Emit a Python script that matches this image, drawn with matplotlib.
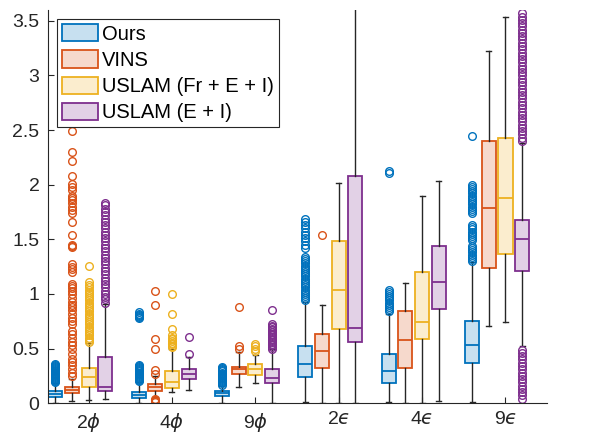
import matplotlib
matplotlib.use("Agg")
import matplotlib.pyplot as plt
from matplotlib.patches import Patch
from matplotlib.colors import to_rgba

plt.rcParams['font.family'] = ['Liberation Sans', 'DejaVu Sans']
plt.rcParams['mathtext.fontset'] = 'dejavusans'

groups = ['2$\\phi$', '4$\\phi$', '9$\\phi$', '2$\u03f5$', '4$\u03f5$', '9$\u03f5$']
methods = ['Ours', 'VINS', 'USLAM (Fr + E + I)', 'USLAM (E + I)']
colors = ['#0072BD', '#D95319', '#EDB120', '#7E2F8E']

# box statistics per method, one value per group
ours_q1 = [0.052, 0.046, 0.067, 0.235, 0.186, 0.37]
ours_med = [0.082, 0.073, 0.09, 0.355, 0.293, 0.53]
ours_q3 = [0.11, 0.098, 0.113, 0.52, 0.446, 0.75]
ours_lo = [0.0, 0.0, 0.0, 0.01, 0.01, 0.01]
ours_hi = [0.18, 0.19, 0.16, 0.93, 0.82, 1.29]

vins_q1 = [0.089, 0.113, 0.265, 0.32, 0.318, 1.24]
vins_med = [0.12, 0.15, 0.31, 0.475, 0.574, 1.79]
vins_q3 = [0.15, 0.174, 0.33, 0.63, 0.845, 2.4]
vins_lo = [0.018, 0.06, 0.15, 0.0, 0.0, 0.71]
vins_hi = [0.22, 0.25, 0.47, 0.9, 1.1, 3.22]

fr_q1 = [0.15, 0.14, 0.26, 0.675, 0.59, 1.37]
fr_med = [0.235, 0.195, 0.31, 1.04, 0.74, 1.88]
fr_q3 = [0.32, 0.29, 0.355, 1.48, 1.2, 2.43]
fr_lo = [0.03, 0.10, 0.18, 0.0, 0.0, 0.745]
fr_hi = [0.55, 0.5, 0.44, 2.02, 1.895, 3.54]

ei_q1 = [0.11, 0.22, 0.186, 0.56, 0.858, 1.21]
ei_med = [0.15, 0.265, 0.226, 0.69, 1.108, 1.5]
ei_q3 = [0.42, 0.31, 0.31, 2.08, 1.435, 1.68]
ei_lo = [0.035, 0.12, 0.0, 0.0, 0.02, 0.52]
ei_hi = [0.91, 0.42, 0.5, 3.8, 2.03, 2.38]

# outliers
ours_fl = [
    [0.19, 0.2, 0.21, 0.22, 0.23, 0.24, 0.25, 0.26, 0.27, 0.28, 0.29, 0.3, 0.31, 0.32, 0.33, 0.34, 0.35, 0.36],
    [0.2, 0.21, 0.22, 0.23, 0.24, 0.25, 0.26, 0.27, 0.28, 0.29, 0.3, 0.31, 0.32, 0.33, 0.34, 0.35,
     0.78, 0.79, 0.8, 0.81, 0.82, 0.83],
    [0.17, 0.18, 0.19, 0.2, 0.21, 0.22, 0.23, 0.24, 0.25, 0.26, 0.27, 0.28, 0.29, 0.3, 0.31, 0.32, 0.33],
    [0.94, 0.96, 0.98, 1.0, 1.02, 1.04, 1.06, 1.08, 1.1, 1.12, 1.14, 1.16, 1.18, 1.2, 1.22, 1.24, 1.26,
     1.28, 1.3, 1.32, 1.34, 1.42, 1.45, 1.48, 1.51, 1.54, 1.57, 1.6, 1.63, 1.66, 1.69],
    [0.84, 0.86, 0.88, 0.9, 0.92, 0.94, 0.96, 0.98, 1.0, 1.02, 1.04, 2.11, 2.13],
    [1.3, 1.32, 1.34, 1.36, 1.38, 1.4, 1.42, 1.44, 1.49, 1.51, 1.53, 1.55, 1.57, 1.59, 1.61, 1.63,
     1.74, 1.76, 1.78, 1.8, 1.82, 1.84, 1.86, 1.88, 1.9, 1.92, 1.94, 1.96, 1.98, 2.0, 2.45],
]
vins_fl = [
    [0.25, 0.28, 0.31, 0.35, 0.38, 0.4, 0.45, 0.5, 0.53, 0.56, 0.6, 0.63, 0.66, 0.72, 0.75, 0.78,
     0.82, 0.85, 0.88, 0.9, 0.93, 0.96, 1.0, 1.03, 1.05, 1.07, 1.09, 1.2, 1.23, 1.25, 1.27, 1.43,
     1.44, 1.45, 1.54, 1.66, 1.74, 1.77, 1.8, 1.83, 1.86, 1.88, 1.9, 1.95, 1.98, 2.01, 2.08, 2.22,
     2.3, 2.49],
    [0.01, 0.02, 0.03, 0.04, 0.27, 0.3, 0.5, 0.59, 0.9, 1.03],
    [0.5, 0.52, 0.88],
    [1.54],
    [],
    [],
]
fr_fl = [
    [0.56, 0.58, 0.6, 0.62, 0.64, 0.66, 0.68, 0.7, 0.72, 0.74, 0.76, 0.78, 0.8, 0.82, 0.84, 0.86,
     0.88, 0.9, 0.92, 0.94, 0.96, 0.98, 1.0, 1.02, 1.04, 1.06, 1.08, 1.11, 1.26],
    [0.51, 0.525, 0.54, 0.555, 0.57, 0.585, 0.6, 0.62, 0.68, 0.82, 1.0],
    [0.48, 0.5, 0.52, 0.54],
    [],
    [],
    [],
]
ei_fl = [
    [0.92, 0.95, 0.97, 1.0, 1.03, 1.06, 1.09, 1.12, 1.15, 1.18, 1.21, 1.24, 1.27, 1.3, 1.33, 1.36,
     1.39, 1.42, 1.45, 1.48, 1.51, 1.54, 1.57, 1.6, 1.63, 1.66, 1.69, 1.72, 1.75, 1.78, 1.81, 1.83],
    [0.45, 0.61],
    [0.5, 0.515, 0.53, 0.545, 0.56, 0.575, 0.59, 0.605, 0.62, 0.635, 0.65, 0.665, 0.68, 0.695,
     0.71, 0.72, 0.85],
    [],
    [],
    [0.04, 0.07, 0.1, 0.13, 0.16, 0.19, 0.22, 0.25, 0.28, 0.31, 0.34, 0.37, 0.4, 0.43, 0.46, 0.49,
     2.4, 2.43, 2.46, 2.49, 2.52, 2.55, 2.58, 2.61, 2.64, 2.67, 2.7, 2.73, 2.76, 2.79, 2.82, 2.85,
     2.88, 2.91, 2.94, 2.97, 3.0, 3.03, 3.06, 3.09, 3.12, 3.15, 3.18, 3.21, 3.24, 3.27, 3.3, 3.33,
     3.36, 3.39, 3.42, 3.45, 3.48, 3.51, 3.54, 3.57],
]

series = [
    (ours_q1, ours_med, ours_q3, ours_lo, ours_hi, ours_fl),
    (vins_q1, vins_med, vins_q3, vins_lo, vins_hi, vins_fl),
    (fr_q1, fr_med, fr_q3, fr_lo, fr_hi, fr_fl),
    (ei_q1, ei_med, ei_q3, ei_lo, ei_hi, ei_fl),
]

fig = plt.figure(figsize=(6.12, 4.33), dpi=100)
ax = fig.add_axes([0.078, 0.069, 0.816, 0.908])

axis_col = '#262626'
for k, (q1, med, q3, lo, hi, fl) in enumerate(series):
    c = colors[k]
    stats = []
    for g in range(len(groups)):
        stats.append(dict(q1=q1[g], med=med[g], q3=q3[g], whislo=lo[g], whishi=hi[g], fliers=fl[g]))
    pos = [g + (k - 2) * 0.2 for g in range(len(groups))]
    ax.bxp(stats, positions=pos, widths=0.17, capwidths=0.06, patch_artist=True,
           showfliers=True, manage_ticks=False,
           boxprops=dict(facecolor=to_rgba(c, 0.22), edgecolor=c, linewidth=1.3),
           medianprops=dict(color=c, linewidth=1.3),
           whiskerprops=dict(color=axis_col, linewidth=1.0),
           capprops=dict(color=axis_col, linewidth=1.0),
           flierprops=dict(marker='o', markerfacecolor='none', markeredgecolor=c,
                           markersize=5.5, markeredgewidth=1.0, linestyle='none'))

ax.set_xlim(-0.49, 5.5)
ax.set_ylim(0, 3.6)
ax.set_xticks(range(len(groups)))
ax.set_xticklabels(groups)
ax.set_yticks([0, 0.5, 1, 1.5, 2, 2.5, 3, 3.5])
ax.set_yticklabels(['0', '0.5', '1', '1.5', '2', '2.5', '3', '3.5'])
ax.tick_params(direction='in', length=4, width=0.8, colors=axis_col, labelsize=14, pad=6)
for s in ['top', 'right']:
    ax.spines[s].set_visible(False)
for s in ['left', 'bottom']:
    ax.spines[s].set_color(axis_col)
    ax.spines[s].set_linewidth(0.8)

handles = [Patch(facecolor=to_rgba(c, 0.22), edgecolor=c, linewidth=1.3) for c in colors]
leg = ax.legend(handles, methods, loc='upper left', fontsize=14.5, frameon=True, fancybox=False,
                framealpha=1, edgecolor=axis_col, handlelength=1.8, handleheight=0.95,
                handletextpad=0.2, borderpad=0.25, labelspacing=0.33, borderaxespad=0.45)
leg.get_frame().set_linewidth(0.8)

fig.savefig('out.png', dpi=100)
